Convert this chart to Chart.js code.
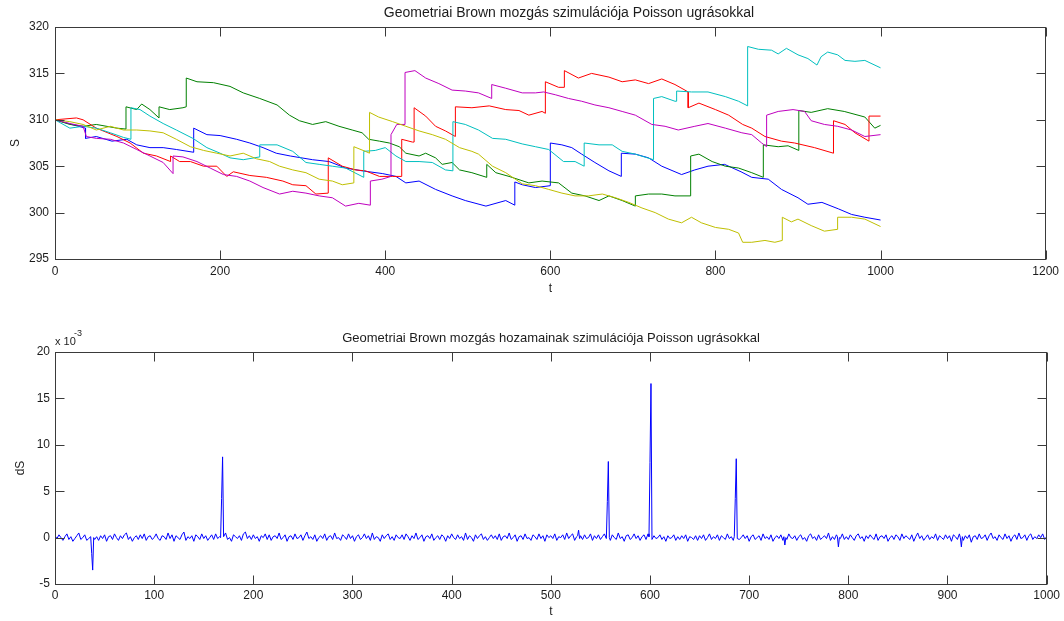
<!DOCTYPE html>
<html lang="hu">
<head>
<meta charset="UTF-8" />
<title>Geometriai Brown mozgás Poisson ugrásokkal</title>
<script src="https://cdn.jsdelivr.net/npm/chart.js"></script>
<style>
  body { margin: 0; background: #fff; }
  .wrap { position: relative; width: 1064px; height: 621px; }
  canvas { position: absolute; left: 0; }
  #pathChart { top: 0; }
  #returnChart { top: 325px; }
</style>
</head>
<body>
<div class="wrap">
  <canvas id="pathChart" width="1064" height="300"></canvas>
  <canvas id="returnChart" width="1064" height="296"></canvas>
</div>
<script>
// Pályák: idő (t) és árfolyam (S); ugrásnál ugyanaz a t kétszer szerepel
const blueT = [0, 20, 37, 37, 50, 69, 87, 99, 115, 131, 147, 168, 168, 184, 200, 220, 236, 252, 268, 285, 312, 332, 352, 372, 397, 413, 425, 441, 461, 481, 497, 522, 546, 557, 557, 566, 582, 600, 600, 614, 626, 638, 654, 671, 686, 686, 703, 719, 735, 759, 775, 791, 811, 831, 844, 864, 880, 900, 912, 929, 949, 965, 981, 1000];
const blueS = [310.0, 309.5, 309.1, 308.0, 308.2, 307.7, 307.9, 307.3, 307.0, 307.0, 306.8, 306.5, 309.1, 308.4, 308.3, 307.9, 307.5, 307.0, 306.4, 306.1, 305.7, 305.5, 304.8, 304.5, 304.2, 303.9, 303.2, 303.4, 302.5, 301.8, 301.3, 300.7, 301.3, 300.8, 303.3, 303.0, 302.7, 302.9, 307.5, 307.3, 307.0, 306.3, 305.4, 304.5, 303.9, 306.4, 306.3, 305.9, 305.0, 304.1, 304.6, 305.0, 305.2, 304.4, 303.8, 303.6, 302.5, 301.6, 300.9, 301.1, 300.4, 299.8, 299.5, 299.2];

const greenT = [0, 18, 34, 50, 75, 86, 86, 99, 105, 115, 126, 126, 139, 155, 159, 159, 172, 192, 212, 228, 248, 269, 284, 296, 312, 328, 344, 360, 372, 380, 393, 405, 417, 425, 441, 449, 461, 469, 481, 490, 505, 523, 523, 534, 550, 574, 590, 610, 626, 642, 659, 671, 687, 703, 703, 719, 735, 751, 770, 770, 780, 796, 812, 828, 844, 858, 858, 876, 888, 901, 901, 916, 936, 956, 981, 993, 1000];
const greenS = [310.0, 309.5, 309.3, 309.5, 309.1, 309.0, 311.4, 311.1, 311.7, 311.1, 310.2, 311.4, 311.1, 311.3, 311.4, 314.5, 314.1, 314.0, 313.6, 312.9, 312.3, 311.6, 310.5, 309.9, 309.5, 309.8, 309.3, 308.9, 308.6, 307.9, 307.7, 307.5, 307.1, 306.4, 306.1, 306.4, 305.9, 305.2, 305.4, 304.6, 304.3, 303.8, 305.2, 304.3, 303.9, 303.2, 303.4, 303.2, 302.1, 301.8, 301.3, 301.8, 301.3, 300.7, 301.8, 302.0, 302.0, 301.8, 301.8, 306.1, 306.3, 305.5, 305.0, 304.8, 304.3, 303.8, 307.3, 307.1, 307.2, 306.7, 311.0, 310.8, 311.2, 310.9, 310.3, 309.1, 309.4];

const redT = [0, 26, 34, 50, 75, 91, 107, 123, 140, 140, 151, 164, 180, 196, 208, 216, 236, 256, 276, 288, 304, 316, 331, 331, 348, 364, 376, 393, 409, 420, 420, 433, 435, 435, 449, 461, 473, 485, 485, 505, 526, 546, 562, 574, 590, 594, 594, 610, 617, 617, 634, 650, 671, 687, 703, 719, 735, 751, 767, 767, 780, 800, 816, 833, 844, 860, 880, 896, 920, 943, 943, 957, 969, 986, 986, 1000];
const redS = [310.0, 310.2, 310.0, 309.1, 308.2, 307.5, 306.4, 306.1, 305.5, 306.1, 305.5, 305.5, 305.0, 305.0, 303.9, 304.4, 304.0, 303.8, 303.4, 303.0, 302.9, 302.0, 302.1, 305.9, 305.0, 304.6, 304.5, 303.9, 303.9, 303.9, 307.9, 307.6, 307.6, 311.3, 310.4, 309.3, 308.8, 308.2, 311.4, 311.3, 311.5, 311.1, 311.0, 310.5, 310.9, 310.7, 314.1, 313.5, 313.5, 315.3, 314.5, 315.0, 314.6, 314.1, 314.3, 313.9, 314.4, 313.8, 313.0, 311.3, 311.8, 311.1, 310.5, 309.5, 309.1, 308.2, 307.7, 307.5, 307.0, 306.4, 309.9, 309.5, 308.6, 307.7, 310.4, 310.4];

const cyanT = [0, 18, 34, 50, 67, 83, 92, 92, 103, 115, 131, 147, 167, 184, 200, 212, 228, 248, 248, 269, 288, 304, 320, 336, 352, 374, 374, 388, 400, 413, 425, 441, 457, 473, 482, 482, 497, 513, 530, 546, 566, 582, 598, 616, 630, 641, 641, 659, 675, 687, 703, 725, 725, 735, 751, 753, 753, 771, 791, 812, 828, 839, 839, 852, 868, 876, 886, 900, 912, 923, 928, 936, 948, 957, 969, 981, 1000];
const cyanS = [310.0, 309.1, 309.3, 309.1, 308.6, 308.1, 307.9, 311.3, 311.1, 310.4, 309.6, 308.9, 308.0, 307.0, 306.4, 305.9, 305.7, 306.0, 307.3, 307.3, 306.6, 305.4, 305.2, 305.0, 304.8, 303.8, 306.6, 306.7, 307.0, 306.1, 305.5, 305.5, 305.4, 304.6, 304.5, 309.8, 309.5, 308.9, 308.0, 307.9, 307.4, 307.1, 306.8, 305.5, 305.5, 305.0, 307.5, 307.3, 307.3, 306.6, 306.3, 305.7, 312.3, 312.5, 312.0, 312.0, 313.1, 313.0, 313.0, 312.5, 312.0, 311.5, 317.9, 317.6, 317.5, 317.1, 317.7, 317.0, 316.6, 315.9, 316.8, 317.3, 317.0, 316.4, 316.3, 316.4, 315.6];

const magentaT = [0, 18, 34, 38, 50, 67, 83, 99, 115, 131, 143, 143, 155, 172, 188, 204, 220, 236, 252, 272, 288, 304, 320, 336, 352, 368, 382, 382, 396, 407, 407, 414, 424, 424, 436, 449, 465, 481, 497, 513, 529, 529, 546, 566, 582, 592, 606, 622, 638, 654, 671, 687, 703, 723, 739, 755, 775, 791, 812, 832, 844, 856, 862, 862, 876, 894, 908, 916, 932, 948, 965, 981, 1000];
const magentaS = [310.0, 309.6, 309.3, 308.2, 308.0, 307.9, 307.5, 306.8, 306.1, 305.4, 304.2, 306.1, 306.0, 305.5, 304.8, 304.1, 303.9, 303.4, 302.7, 302.0, 302.3, 302.1, 301.8, 301.6, 300.7, 301.0, 300.8, 303.4, 303.6, 303.9, 308.4, 309.5, 309.5, 315.1, 315.3, 314.5, 313.9, 313.2, 313.1, 312.9, 312.3, 313.8, 313.4, 312.9, 312.9, 313.0, 312.7, 312.3, 312.0, 311.6, 311.3, 310.9, 310.5, 309.5, 309.3, 308.9, 309.3, 309.6, 309.1, 308.6, 308.4, 307.5, 307.1, 310.5, 310.9, 311.1, 310.9, 309.9, 309.5, 309.3, 308.9, 308.2, 308.4];

const yellowT = [0, 18, 34, 50, 67, 83, 99, 115, 131, 147, 164, 180, 196, 212, 228, 244, 260, 272, 288, 304, 320, 336, 348, 362, 362, 376, 381, 381, 392, 409, 425, 441, 457, 473, 490, 505, 513, 530, 546, 566, 582, 598, 614, 630, 646, 663, 679, 695, 711, 727, 743, 759, 771, 783, 800, 816, 828, 833, 844, 860, 872, 881, 881, 892, 900, 916, 932, 948, 948, 965, 981, 1000];
const yellowS = [310.0, 309.8, 309.5, 308.9, 309.3, 308.9, 308.9, 308.8, 308.6, 307.9, 307.1, 306.7, 306.4, 306.1, 306.4, 305.8, 305.5, 305.0, 304.6, 304.3, 303.6, 303.4, 303.0, 303.2, 307.1, 306.6, 306.4, 310.8, 310.3, 309.8, 309.3, 308.8, 308.4, 307.9, 307.0, 306.6, 306.3, 305.0, 304.3, 303.1, 302.9, 302.5, 302.1, 301.8, 301.8, 302.0, 301.6, 301.1, 300.5, 300.0, 299.3, 298.9, 299.5, 298.9, 298.4, 298.2, 297.8, 296.8, 296.8, 297.0, 296.8, 297.0, 299.5, 299.0, 299.3, 298.6, 298.0, 298.2, 299.5, 299.5, 299.3, 298.5];

// Hozamok (x 10^-3): zaj 2 lépésenként, t = 0 ... 1000
const retStep = 2;
const retNoise = [
  0.2, -0.1, 0.3, 0.0, -0.3, 0.1, 0.4, -0.2, 0.1, -0.4, -0.1, 0.2, 0.5, -0.2, 0.0, 0.3, -0.3, -0.1, 0.2, 0.6, -0.2, 0.1, -0.3, 0.2, -0.1,
  0.3, -0.4, 0.1, 0.2, -0.2, 0.4, 0.0, -0.3, 0.2, -0.1, 0.3, 0.5, -0.2, 0.1, -0.4, 0.0, 0.2, -0.2, 0.3, -0.1, 0.4, -0.3, 0.1, 0.2, -0.2,
  0.0, 0.4, -0.1, -0.3, 0.2, 0.1, -0.2, 0.5, -0.1, 0.3, -0.4, 0.2, 0.0, -0.2, 0.3, 0.6, -0.3, 0.1, -0.1, 0.2, -0.4, 0.3, 0.1, -0.2, 0.4,
  -0.1, 0.2, -0.3, 0.0, 0.3, -0.2, 0.4, -0.1, 0.1, -0.3, 0.2, 0.5, -0.2, 0.0, -0.4, 0.3, 0.1, -0.1, 0.2, -0.3, 0.4, 0.6, -0.1, 0.2, -0.2,
  0.3, -0.1, 0.1, -0.4, 0.2, 0.0, 0.4, -0.2, 0.3, -0.3, 0.1, 0.2, -0.1, 0.5, -0.2, 0.0, 0.3, -0.4, 0.1, 0.2, -0.2, 0.4, -0.1, 0.0, 0.3,
  -0.3, 0.2, 0.6, -0.1, 0.1, -0.2, 0.3, -0.4, 0.0, 0.2, -0.1, 0.4, -0.3, 0.1, 0.2, -0.2, 0.5, -0.1, 0.0, -0.3, 0.3, 0.1, -0.2, 0.4, -0.1,
  0.2, -0.4, 0.1, 0.3, -0.2, 0.0, 0.4, -0.1, 0.2, -0.3, 0.5, -0.2, 0.1, 0.0, -0.4, 0.3, -0.1, 0.2, 0.4, -0.2, 0.1, -0.3, 0.3, 0.0, -0.1,
  0.3, -0.2, 0.4, 0.1, -0.3, 0.2, -0.1, 0.5, -0.2, 0.0, 0.3, -0.4, 0.1, 0.2, -0.1, 0.4, -0.3, 0.0, 0.2, -0.2, 0.3, 0.1, -0.4, 0.2, -0.1,
  0.4, 0.0, -0.2, 0.3, -0.1, 0.1, -0.3, 0.5, -0.2, 0.2, 0.0, -0.4, 0.3, -0.1, 0.2, 0.4, -0.2, 0.1, -0.3, 0.0, 0.3, -0.1, 0.2, -0.2, 0.4,
  -0.3, 0.1, 0.2, -0.1, 0.5, -0.2, 0.0, 0.3, -0.4, 0.1, 0.2, -0.2, 0.4, -0.1, 0.0, -0.3, 0.3, 0.1, -0.2, 0.4, -0.1, 0.2, -0.4, 0.3, 0.0,
  0.2, -0.1, 0.4, -0.3, 0.1, 0.0, 0.3, -0.2, 0.5, -0.1, 0.2, 0.4, -0.3, 0.1, 0.7, 0.2, -0.2, 0.3, -0.1, 0.0, 0.4, -0.3, 0.2, -0.1, 0.3,
  -0.2, 0.1, 0.4, -0.1, 0.2, -0.3, 0.3, 0.0, -0.2, 0.5, -0.1, 0.1, -0.4, 0.2, 0.3, -0.2, 0.0, 0.4, -0.1, 0.2, -0.3, 0.1, 0.3, -0.2, 0.4,
  0.1, -0.3, 0.2, -0.1, 0.0, 0.3, -0.2, 0.1, -0.4, 0.2, -0.1, 0.0, 0.3, -0.3, 0.1, -0.2, 0.2, -0.1, 0.3, -0.4, 0.1, 0.0, -0.2, 0.2, -0.3,
  0.2, -0.1, 0.3, -0.3, 0.0, 0.4, -0.2, 0.1, -0.1, 0.3, -0.3, 0.2, 0.0, -0.2, 0.4, -0.1, 0.1, -0.3, 0.2, 0.5, -0.2, 0.0, 0.3, -0.1, 0.2,
  -0.4, 0.1, 0.3, -0.2, 0.0, 0.2, -0.3, 0.4, -0.1, 0.1, -0.2, 0.3, -0.4, 0.0, 0.2, -0.1, 0.3, -0.3, 0.1, -0.2, 0.4, 0.0, -0.1, 0.2, -0.3,
  0.1, 0.3, -0.2, 0.0, -0.4, 0.2, 0.4, -0.1, 0.1, -0.3, 0.3, -0.2, 0.0, 0.2, -0.1, 0.5, -0.3, 0.1, -0.2, 0.3, 0.0, -0.1, 0.4, -0.2, 0.1,
  -0.2, 0.3, 0.0, -0.3, 0.2, 0.4, -0.1, 0.1, -0.4, 0.2, -0.1, 0.3, 0.0, -0.2, 0.4, -0.3, 0.1, 0.2, -0.1, 0.3, -0.4, 0.0, 0.2, -0.2, 0.3,
  0.1, -0.3, 0.4, -0.1, 0.2, 0.0, -0.2, 0.3, -0.4, 0.1, 0.5, -0.1, 0.2, -0.3, 0.0, 0.3, -0.2, 0.1, -0.1, 0.4, -0.3, 0.2, 0.0, -0.2, 0.3,
  -0.1, 0.2, -0.4, 0.3, 0.1, -0.2, 0.4, 0.0, -0.3, 0.2, -0.1, 0.3, -0.5, 0.1, 0.2, -0.2, 0.4, -0.1, 0.0, 0.3, -0.3, 0.2, 0.5, -0.1, 0.1,
  -0.3, 0.3, 0.0, -0.2, 0.4, -0.1, 0.2, -0.4, 0.1, 0.3, -0.2, 0.5, -0.1, 0.0, 0.3, -0.3, 0.2, 0.4, -0.2, 0.1, -0.1, 0.3, 0.0, 0.4, -0.2,
  0.1
];
// Ugrások a hozamokban (a környező alapszinttel együtt)
const spikeT = [36, 37, 38, 39, 167, 168, 169, 170, 527, 528, 529, 556, 557, 558, 559, 599, 600, 601, 602, 685, 686, 687, 688, 735, 736, 737, 789, 790, 791, 913, 914, 915];
const spikeV = [0.1, -1.7, -3.5, 0.0, 0.0, 4.2, 8.7, 0.1, 0.2, 0.8, -0.1, -0.1, 3.9, 8.2, 0.0, 0.1, 8.1, 16.6, -0.2, 0.1, 4.2, 8.5, -0.1, 0.1, -0.8, 0.0, 0.1, -1.0, 0.0, 0.0, -1.0, 0.1];

const FONT = '"Liberation Sans", Arial, sans-serif';
const TXT = '#1c1c1c';
const AX = '#3a3a3a';

const paths = [
  { t: blueT, s: blueS, color: '#0000ff' },
  { t: greenT, s: greenS, color: '#008000' },
  { t: redT, s: redS, color: '#ff0000' },
  { t: cyanT, s: cyanS, color: '#00bfbf' },
  { t: magentaT, s: magentaS, color: '#bf00bf' },
  { t: yellowT, s: yellowS, color: '#bfbf00' }
];
const toXY = (ts, vs) => ts.map((t, i) => ({ x: t, y: vs[i] }));

// az ugrások helyén a zaj pontjait kihagyjuk
const retData = retNoise.map((v, i) => ({ x: i * retStep, y: v }))
  .filter(p => !spikeT.includes(p.x))
  .concat(toXY(spikeT, spikeV))
  .sort((a, b) => a.x - b.x);

// Tengelykeret és befelé mutató osztások mind a négy oldalon
const boxPlugin = {
  id: 'axisBox',
  afterDatasetsDraw(chart) {
    const { ctx, chartArea: a, scales } = chart;
    const L = Math.round(a.left) + 0.5, R = Math.round(a.right) - 0.5;
    const T = Math.round(a.top) + 0.5, B = Math.round(a.bottom) + 0.5;
    ctx.save();
    ctx.strokeStyle = AX;
    ctx.lineWidth = 1;
    ctx.strokeRect(L, T, R - L, B - T);
    ctx.beginPath();
    scales.x.ticks.forEach(tk => {
      const px = Math.round(scales.x.getPixelForValue(tk.value)) + 0.5;
      ctx.moveTo(px, B); ctx.lineTo(px, B - 9);
      ctx.moveTo(px, T); ctx.lineTo(px, T + 9);
    });
    scales.y.ticks.forEach(tk => {
      const py = Math.round(scales.y.getPixelForValue(tk.value)) + 0.5;
      ctx.moveTo(L, py); ctx.lineTo(L + 9, py);
      ctx.moveTo(R, py); ctx.lineTo(R - 9, py);
    });
    ctx.stroke();
    ctx.restore();
  }
};

// Címek és egyéb feliratok
const textPlugin = {
  id: 'figText',
  afterDraw(chart, args, opts) {
    const ctx = chart.ctx;
    (opts.items || []).forEach(it => {
      ctx.save();
      ctx.font = it.font;
      ctx.fillStyle = TXT;
      ctx.textAlign = it.align || 'center';
      ctx.textBaseline = 'middle';
      ctx.fillText(it.text, it.x, it.y);
      ctx.restore();
    });
  }
};
Chart.register(boxPlugin, textPlugin);

function axis(min, max, step, title, titlePad, tickPad, fit) {
  return {
    type: 'linear',
    min: min,
    max: max,
    ticks: {
      stepSize: step, color: TXT, font: { family: FONT, size: 12 }, padding: tickPad,
      autoSkip: false, maxRotation: 0, callback: v => String(v)
    },
    grid: { display: false, drawTicks: false },
    border: { display: false },
    title: { display: true, text: title, color: TXT, font: { family: FONT, size: 12 }, padding: titlePad },
    afterFit: fit
  };
}

const baseOpts = {
  responsive: false,
  animation: false,
  devicePixelRatio: 1,
  events: [],
  layout: { padding: { top: 27, right: 16, left: 0, bottom: 0 } }
};

new Chart(document.getElementById('pathChart'), {
  type: 'line',
  data: {
    datasets: paths.map((p, i) => ({
      data: toXY(p.t, p.s),
      borderColor: p.color,
      borderWidth: 1,
      pointRadius: 0,
      tension: 0,
      order: paths.length - i
    }))
  },
  options: Object.assign({}, baseOpts, {
    plugins: {
      legend: { display: false },
      tooltip: { enabled: false },
      figText: { items: [
        { text: 'Geometriai Brown mozgás szimulációja Poisson ugrásokkal', x: 569, y: 13, font: '14px ' + FONT }
      ] }
    },
    scales: {
      x: axis(0, 1200, 200, 't', { top: 0, bottom: 4 }, 5, s => { s.height = 41; }),
      y: axis(295, 320, 5, 'S', { top: 8, bottom: 0 }, 6, s => { s.width = 55; })
    }
  })
});

new Chart(document.getElementById('returnChart'), {
  type: 'line',
  data: {
    datasets: [{
      data: retData,
      borderColor: '#0000ff',
      borderWidth: 1,
      pointRadius: 0,
      tension: 0
    }]
  },
  options: Object.assign({}, baseOpts, {
    plugins: {
      legend: { display: false },
      tooltip: { enabled: false },
      figText: { items: [
        { text: 'Geometriai Brown mozgás hozamainak szimulációja Poisson ugrásokkal', x: 551, y: 13, font: '13px ' + FONT },
        { text: 'x 10', x: 55, y: 17, font: '11px ' + FONT, align: 'left' },
        { text: '-3', x: 74, y: 9, font: '9px ' + FONT, align: 'left' }
      ] }
    },
    scales: {
      x: axis(0, 1000, 100, 't', { top: 0, bottom: 2 }, 4, s => { s.height = 37; }),
      y: axis(-5, 20, 5, 'dS', { top: 13, bottom: 0 }, 5, s => { s.width = 55; })
    }
  })
});
</script>
</body>
</html>
